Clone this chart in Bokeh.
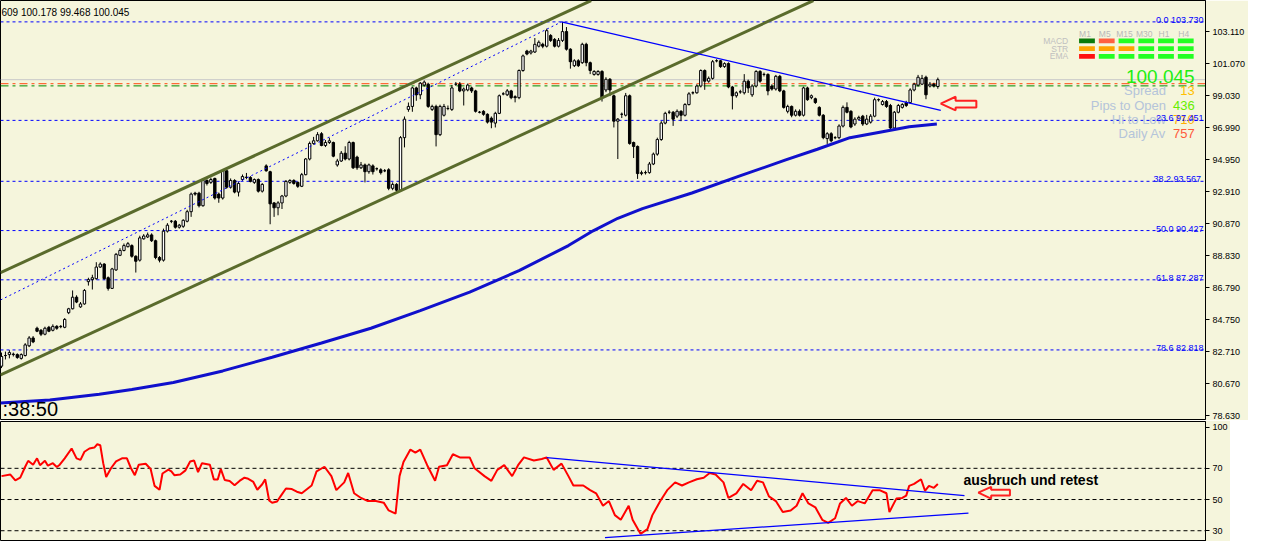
import numpy as np
from bokeh.plotting import figure
from bokeh.layouts import column
from bokeh.models import FixedTicker, PrintfTickFormatter, Label, Range1d, ColumnDataSource, Span
from bokeh.core.properties import value
from bokeh.embed import file_html
from bokeh.resources import INLINE

# ---------------- data: candles (one per bar) ----------------
opens = [81.78, 82.46, 82.52, 82.52, 82.52, 82.28, 82.46, 83.08, 83.58, 84.20,
         84.07, 83.82, 84.26, 84.07, 84.32, 84.30, 84.26, 85.19, 85.44, 86.18,
         85.56, 85.75, 87.17, 87.30, 87.36, 88.10, 88.29, 87.42, 86.74, 87.92,
         88.85, 89.16, 89.40, 89.47, 88.79, 88.54, 89.90, 90.02, 90.15, 89.78,
         88.71, 88.54, 90.39, 91.02, 91.02, 90.64, 90.70, 91.02, 91.63, 92.81,
         92.81, 92.01, 93.62, 93.50, 93.75, 92.75, 92.50, 94.24, 93.19, 93.62,
         92.88, 93.68, 93.81, 93.81, 93.50, 93.68, 92.94, 94.55, 94.18, 92.19,
         91.88, 92.19, 92.63, 93.50, 93.62, 93.50, 93.25, 93.99, 94.99, 95.98,
         96.15, 96.60, 95.85, 96.04, 96.04, 94.61, 94.86, 95.36, 94.99, 96.04,
         95.11, 94.43, 94.61, 94.18, 94.55, 94.37, 94.30, 94.24, 94.30, 93.12,
         93.37, 93.00, 96.35, 98.15, 98.34, 99.52, 99.08, 99.70, 99.76, 98.15,
         98.34, 96.54, 97.78, 98.21, 98.15, 99.76, 99.76, 99.33, 99.39, 99.52,
         99.33, 97.97, 98.03, 97.84, 97.59, 97.28, 97.90, 99.14, 99.08, 99.33,
         98.96, 98.90, 100.63, 101.87, 101.75, 101.81, 102.18, 102.30, 102.18, 102.86,
         102.61, 102.18, 102.55, 103.11, 101.99, 100.94, 101.25, 101.13, 102.30, 101.13,
         100.38, 100.38, 100.57, 99.39, 100.07, 99.02, 97.40, 97.84, 97.78, 99.02,
         96.04, 95.79, 94.06, 94.12, 94.12, 94.67, 95.30, 96.23, 97.28, 97.97,
         97.97, 97.72, 98.03, 97.78, 98.46, 99.21, 99.21, 99.64, 100.63, 99.95,
         100.13, 101.25, 101.25, 100.88, 101.07, 99.58, 99.02, 99.27, 99.21, 99.95,
         99.08, 99.64, 100.57, 100.38, 100.38, 99.64, 99.45, 100.26, 99.33, 98.03,
         98.34, 97.78, 98.03, 97.78, 99.52, 98.90, 98.83, 98.28, 97.78, 96.29,
         96.60, 96.35, 96.35, 97.09, 98.28, 98.03, 97.22, 97.53, 97.72, 97.22,
         97.34, 97.72, 98.77, 98.46, 98.65, 98.40, 96.97, 97.97, 98.28, 98.59,
         98.59, 99.39, 99.70, 99.76, 100.20, 99.64, 99.76, 99.609]
highs = [82.65, 82.71, 82.80, 82.65, 82.60, 82.60, 83.25, 83.70, 83.70, 84.30,
         84.15, 84.30, 84.35, 84.45, 84.40, 84.40, 84.85, 85.50, 86.61, 86.30,
         85.87, 86.70, 87.42, 87.61, 88.41, 88.40, 88.35, 87.50, 88.05, 89.00,
         89.30, 89.60, 89.70, 89.55, 88.85, 90.10, 90.20, 90.30, 90.25, 89.85,
         88.80, 90.55, 90.90, 91.10, 91.10, 90.85, 91.15, 91.75, 92.85, 92.90,
         92.90, 93.70, 93.70, 93.80, 93.80, 92.85, 94.35, 94.30, 93.75, 93.70,
         93.55, 94.00, 94.10, 93.90, 93.75, 93.75, 93.45, 94.65, 94.24, 92.25,
         92.30, 92.70, 93.65, 93.70, 93.70, 93.55, 94.10, 95.05, 96.10, 96.40,
         96.70, 96.70, 96.20, 96.35, 96.10, 95.00, 95.50, 95.80, 96.15, 96.10,
         95.20, 94.80, 94.70, 94.70, 94.65, 94.45, 94.40, 94.35, 94.40, 93.50,
         93.45, 96.45, 97.70, 98.59, 99.60, 99.60, 99.90, 100.00, 99.85, 98.45,
         98.45, 98.45, 98.50, 98.40, 99.70, 99.90, 99.90, 99.55, 99.80, 99.60,
         99.40, 98.05, 98.10, 97.90, 97.70, 98.00, 99.10, 99.25, 99.45, 99.40,
         99.05, 100.70, 101.65, 101.95, 101.95, 102.70, 102.55, 102.40, 103.30, 102.95,
         102.70, 102.70, 103.73, 103.40, 102.05, 101.35, 101.35, 102.40, 102.40, 101.20,
         100.65, 100.65, 100.65, 100.20, 100.15, 99.10, 97.60, 97.95, 99.20, 99.10,
         96.10, 95.85, 94.25, 94.25, 94.80, 95.40, 96.35, 97.40, 98.00, 98.10,
         98.05, 98.15, 98.10, 98.55, 99.25, 99.30, 99.75, 100.70, 100.70, 100.25,
         101.30, 101.35, 101.30, 101.15, 101.15, 99.65, 99.30, 99.40, 100.40, 100.05,
         99.75, 100.65, 100.65, 100.50, 100.45, 99.75, 100.35, 100.35, 99.40, 98.45,
         98.40, 98.15, 98.15, 99.60, 99.60, 99.10, 98.90, 98.35, 97.85, 96.70,
         96.70, 96.45, 97.20, 98.40, 98.60, 98.10, 97.65, 97.75, 97.80, 97.80,
         97.85, 98.90, 98.85, 98.75, 98.75, 98.50, 98.05, 98.50, 98.55, 98.70,
         99.50, 99.85, 100.35, 100.35, 100.30, 99.90, 99.85, 100.178]
lows = [81.66, 82.21, 82.28, 82.40, 82.25, 82.20, 82.40, 83.00, 83.25, 83.95,
        83.70, 83.75, 83.95, 84.00, 84.10, 84.20, 84.20, 85.10, 85.40, 85.80,
        85.50, 85.70, 86.92, 86.67, 87.30, 88.05, 87.30, 86.60, 86.70, 87.85,
        88.80, 89.10, 89.35, 88.70, 87.75, 88.45, 89.85, 89.95, 89.70, 88.60,
        88.40, 88.45, 90.30, 90.90, 90.55, 90.55, 90.60, 90.95, 91.30, 92.65,
        91.90, 91.95, 93.30, 93.40, 92.40, 92.20, 92.40, 93.10, 93.10, 92.80,
        92.60, 93.60, 93.70, 93.50, 93.40, 92.85, 92.85, 94.18, 90.83, 91.30,
        91.40, 91.80, 92.55, 93.40, 93.35, 93.15, 93.20, 93.95, 94.90, 95.90,
        96.10, 95.80, 95.75, 95.95, 95.10, 94.50, 94.80, 94.90, 94.90, 94.35,
        94.30, 94.35, 93.50, 94.05, 94.00, 94.25, 94.00, 94.15, 93.00, 93.00,
        92.85, 92.90, 95.73, 98.00, 98.00, 98.70, 98.80, 99.60, 98.25, 98.05,
        95.79, 96.45, 97.70, 98.10, 98.05, 99.65, 99.25, 98.40, 99.30, 99.20,
        97.95, 97.90, 97.75, 97.25, 96.95, 97.00, 97.85, 99.05, 99.00, 98.80,
        98.60, 98.80, 100.55, 101.60, 101.65, 101.75, 102.10, 102.05, 102.10, 102.45,
        102.10, 102.10, 102.45, 101.90, 100.75, 100.85, 100.85, 101.05, 100.90, 100.40,
        100.30, 100.30, 98.65, 99.25, 99.00, 97.00, 94.99, 97.60, 97.70, 95.90,
        95.05, 93.72, 93.95, 94.00, 94.05, 94.60, 95.20, 96.15, 97.20, 97.85,
        97.10, 97.60, 97.40, 97.70, 98.40, 99.10, 99.15, 99.55, 99.40, 99.85,
        100.05, 101.15, 100.80, 100.80, 99.50, 98.15, 98.90, 99.15, 99.10, 99.20,
        98.95, 99.55, 99.85, 100.25, 99.05, 99.35, 99.35, 99.25, 98.20, 97.90,
        97.65, 97.70, 97.70, 97.70, 98.70, 98.80, 98.50, 97.70, 96.25, 95.95,
        96.05, 96.25, 96.25, 97.00, 97.90, 96.95, 97.10, 97.45, 97.10, 97.15,
        97.25, 97.65, 98.65, 98.40, 98.25, 96.80, 96.90, 97.90, 98.20, 98.30,
        98.50, 99.30, 99.60, 99.70, 98.80, 99.55, 99.55, 99.468]
closes = [82.40, 82.46, 82.65, 82.55, 82.34, 82.52, 83.14, 83.58, 83.33, 84.01,
          83.82, 84.20, 84.01, 84.32, 84.20, 84.32, 84.76, 85.44, 86.18, 85.87,
          85.75, 86.61, 87.30, 87.42, 88.10, 88.29, 87.36, 86.74, 87.98, 88.91,
          89.16, 89.47, 89.59, 88.79, 88.47, 89.96, 90.08, 90.15, 89.78, 88.71,
          88.54, 90.39, 90.77, 91.02, 90.64, 90.77, 91.08, 91.63, 92.75, 92.75,
          92.01, 93.62, 93.43, 93.68, 92.50, 92.50, 94.24, 93.19, 93.62, 92.88,
          93.43, 93.87, 93.83, 93.56, 93.68, 92.94, 93.37, 94.24, 92.13, 91.88,
          92.19, 92.63, 93.56, 93.62, 93.43, 93.25, 93.99, 94.99, 95.98, 96.15,
          96.54, 95.85, 96.04, 96.15, 95.17, 94.86, 95.36, 94.99, 96.04, 94.43,
          94.43, 94.61, 94.18, 94.61, 94.18, 94.37, 94.12, 94.24, 93.12, 93.37,
          93.00, 96.35, 97.53, 98.34, 99.52, 99.08, 99.82, 99.89, 98.34, 98.34,
          96.54, 98.34, 98.34, 98.21, 99.52, 99.76, 99.33, 99.45, 99.70, 99.33,
          98.03, 97.97, 97.84, 97.34, 97.34, 97.90, 99.02, 99.14, 99.33, 98.90,
          98.90, 100.63, 101.56, 101.68, 101.87, 102.30, 102.43, 102.18, 103.17, 102.55,
          102.18, 102.55, 103.11, 101.99, 101.19, 101.25, 100.94, 102.30, 101.13, 100.63,
          100.57, 100.57, 98.90, 100.07, 99.39, 97.40, 97.53, 97.84, 99.02, 95.98,
          95.79, 94.06, 94.12, 94.12, 94.67, 95.30, 96.23, 97.28, 97.90, 97.97,
          97.53, 98.03, 97.78, 98.46, 99.14, 99.21, 99.64, 100.63, 99.95, 100.13,
          101.19, 101.25, 100.88, 101.07, 99.58, 99.02, 99.21, 99.27, 99.95, 99.52,
          99.64, 100.57, 99.95, 100.38, 99.33, 99.45, 100.26, 99.33, 98.28, 98.34,
          97.78, 98.03, 97.78, 99.52, 98.77, 99.02, 98.59, 97.78, 96.35, 96.60,
          96.15, 96.35, 97.09, 98.28, 97.97, 97.03, 97.53, 97.64, 97.22, 97.53,
          97.72, 98.77, 98.77, 98.65, 98.34, 96.97, 97.97, 98.40, 98.46, 98.40,
          99.39, 99.76, 100.20, 100.13, 99.08, 99.76, 99.64, 100.045]

# ---------------- data: moving average (bar, value) ----------------
ma_bar = [-0.25, 12.25, 24.75, 33, 43.5, 56, 68.5, 81, 93.5, 106, 118.5, 131, 143.5,
          149.75, 156, 162.25, 174.75, 187.25, 198.5, 206.5, 214.75, 223, 229.75, 236.75]
ma_val = [79.44, 79.62, 79.99, 80.30, 80.74, 81.48, 82.35, 83.26, 84.20, 85.32, 86.50, 87.87, 89.47,
          90.41, 91.21, 91.83, 92.82, 93.94, 94.93, 95.61, 96.35, 96.73, 97.04, 97.22]

# ---------------- data: trend objects (bar, price) ----------------
channel_upper_bar = [-0.25, 149.25]
channel_upper_val = [87.74, 105.09]
channel_lower_bar = [-0.25, 205.5]
channel_lower_val = [81.22, 105.09]
channel_mid_bar = [-0.25, 141.75]
channel_mid_val = [86.00, 103.73]
downtrend_bar = [141.75, 237.75]
downtrend_val = [103.73, 98.09]

fib_levels = [103.730, 97.451, 93.567, 90.427, 87.287, 82.818]
fib_labels = ["0.0 103.730", "23.6 97.451", "38.2  93.567", "50.0 90.427", "61.8 87.287", "78.6 82.818"]
price_ticks = [103.110, 101.070, 99.030, 96.990, 94.950, 92.910, 90.870, 88.830, 86.790, 84.750, 82.710, 80.670, 78.630]
bid = 100.045
level_red = 99.79
level_green = 99.65
ohlc_text = "609 100.178 99.468 100.045"
clock_text = ":38:50"

# ---------------- data: RSI (bar, value) ----------------
rsi_bar = [0, 2.25, 3.5, 4.75, 6, 6.75, 8, 9, 9.75, 11, 11.75, 13, 14, 14.75, 16, 17.75, 19, 20, 21, 22.25,
           23.5, 24.25, 25, 25.75, 26.5, 27.75, 29, 30.5, 31.75, 32.75, 33.75, 34.75, 36.5, 37.75, 38.75, 40,
           40.75, 42.25, 43, 43.75, 45.25, 46.5, 47.75, 48.75, 49.75, 50.75, 52.75, 53.75, 54.75, 55.5, 56.5,
           57.75, 59, 60.25, 61.5, 62.25, 63.75, 64.75, 66, 66.75, 67.75, 68.5, 69.75, 70.75, 72, 73.5, 74.75,
           76, 78.5, 79.75, 81.75, 83.5, 84.75, 86.75, 87.75, 89.25, 91, 92.75, 94.75, 96.75, 98, 99.75, 100.75,
           101.75, 103.5, 104.75, 106, 107.75, 109.75, 110.75, 112.75, 114.25, 116, 118.5, 119.75, 122.25, 124,
           125.5, 127.25, 129.25, 130.75, 132.25, 134.75, 136.75, 138, 139.75, 141.75, 143.5, 144.75, 147.25,
           149, 150.5, 152.25, 153.75, 155.25, 156.75, 158.75, 159.75, 161.75, 163.5, 164.75, 166.75, 168.5,
           170.5, 172.25, 174, 176, 177.75, 179.25, 180.75, 182.75, 184, 186, 187.75, 189.75, 191.25, 192.75,
           194.25, 196, 197.75, 199.75, 201.25, 202.75, 204.25, 206, 207.75, 209.25, 211, 212.25, 213.75,
           215.25, 216.75, 218.5, 220.5, 222.25, 224, 224.75, 226.5, 228, 229, 229.75, 231, 232.75, 233.75,
           234.75, 236, 237]
rsi_val = [65, 66, 62.3, 64, 71, 74.8, 72.3, 76.4, 72, 74.8, 71.7, 73.3, 70.8, 72.3, 76.4, 82.7, 76.4, 75.4, 80.6, 82.7,
           83.3, 85.4, 84.8, 73.3, 64.4, 70.2, 74.4, 76.4, 76.4, 70.2, 65.6, 72.3, 72.9, 69.6, 58.75, 56.25,
           66.7, 69.2, 68.1, 65.6, 66, 68.5, 74.4, 75, 67.5, 73.3, 72.3, 62.9, 62.9, 69.6, 62.5,
           61.9, 59.2, 61.9, 64, 63.5, 61.25, 56.25, 59.8, 62.9, 49.4, 47.9, 48.75, 52.5, 57.1, 56.7, 55,
           54, 59, 68, 71, 65, 56, 61, 67, 54, 51, 49, 49, 48, 43, 41, 65,
           74, 82, 80, 82, 72, 62, 71, 72, 79, 77, 77, 70, 65, 62,
           69, 72, 65, 72, 77, 75, 76, 77, 69, 73, 65, 59, 59,
           56, 54, 46, 49, 40, 37, 46, 37, 28, 31, 40, 49, 56,
           61, 59, 61, 63, 64, 67, 66, 61, 51, 54, 60, 56, 62, 61,
           52, 49, 42, 43, 46, 54, 47.5, 45, 37, 35, 38, 47.5, 51,
           46, 49, 47.5, 56, 56, 54, 42, 50.6, 51, 52.5, 58.75, 60, 63, 55.6,
           58.75, 57.5, 60]
rsi_levels = [70, 50, 30]
rsi_ticks = [96.2, 70, 50, 30]
rsi_tick_text = {96.2: "100", 70: "70", 50: "50", 30: "30"}
rsi_upper_bar = [138, 243.75]
rsi_upper_val = [76.9, 52.5]
rsi_lower_bar = [152.75, 244.75]
rsi_lower_val = [25.6, 41.25]
note_text = "ausbruch und retest"

# ---------------- dashboard ----------------
tf_names = ["M1", "M5", "M15", "M30", "H1", "H4"]
ind_names = ["MACD", "STR", "EMA"]
ind_colors = [["#0a7a0a", "#ff6040", "#22ff22", "#22ff22", "#22ff22", "#22ff22"],
              ["#ffa500", "#ffa500", "#ffa500", "#22ff22", "#22ff22", "#22ff22"],
              ["#ff1010", "#22ff22", "#22ff22", "#22ff22", "#22ff22", "#22ff22"]]
info_names = ["Spread", "Pips to Open", "Hi to Low", "Daily Av"]
info_values = ["13", "436", "710", "757"]
info_colors = ["#ffc000", "#66ee00", "#ffb000", "#ff5a3a"]

BG = "#f5f5dc"
FONT = "Liberation Sans"

# layout helpers: screen position of the reference terminal -> chart coordinates
def bx(px):
    return (px - 1) / 4.0

def py(pix):
    return 105.093 - 0.06197 * pix

def ry(pix):
    return 70 - (pix - 482) / 1.6

x_range = Range1d(-0.25, 304.75)

# ---------------- main price panel ----------------
p = figure(frame_width=1205, frame_height=419, x_range=x_range, y_range=Range1d(78.383, 105.093),
           output_backend="svg", toolbar_location=None, title=None,
           x_axis_location=None, y_axis_location="right",
           min_border_left=0, min_border_top=0, min_border_bottom=1, min_border_right=0)
p.background_fill_color = BG
p.border_fill_color = BG
p.outline_line_color = "black"
p.grid.visible = False
ax = p.yaxis[0]
ax.ticker = FixedTicker(ticks=price_ticks)
ax.formatter = PrintfTickFormatter(format="%.3f")
ax.major_label_text_font = FONT
ax.major_label_text_font_size = "9px"
ax.major_label_text_color = "black"
ax.axis_line_color = "black"
ax.major_tick_line_color = "black"
ax.major_tick_out = 4
ax.major_tick_in = 0
ax.minor_tick_line_color = None
ax.major_label_standoff = 3

for lv in fib_levels:
    p.add_layout(Span(location=lv, dimension="width", line_color="#0000ff", line_width=1, line_dash="3 3", level="underlay"))
p.add_layout(Span(location=bid, dimension="width", line_color="#c8c8c8", line_width=1, level="underlay"))
p.add_layout(Span(location=level_red, dimension="width", line_color="#ff4a10", line_width=1, line_dash="8 4 3 4", level="underlay"))
p.add_layout(Span(location=level_green, dimension="width", line_color="#008a00", line_width=1, line_dash="8 4 3 4", level="underlay"))

o = np.array(opens); h = np.array(highs); l = np.array(lows); c = np.array(closes)
bars = np.arange(len(o))
src = ColumnDataSource(dict(x=bars, top=np.maximum(o, c), bottom=np.minimum(o, c), high=h, low=l,
                            fill=np.where(c >= o, "white", "black")))
p.segment(x0="x", y0="low", x1="x", y1="high", source=src, line_color="black", line_width=1)
p.vbar(x="x", width=0.6, top="top", bottom="bottom", source=src, fill_color="fill", line_color="black", line_width=1)

p.line(channel_upper_bar, channel_upper_val, line_color="#5a6b2c", line_width=3)
p.line(channel_lower_bar, channel_lower_val, line_color="#5a6b2c", line_width=3)
p.line(channel_mid_bar, channel_mid_val, line_color="#0000ff", line_width=1, line_dash="2 3")
p.line(downtrend_bar, downtrend_val, line_color="#0000ff", line_width=1.3)
p.line(ma_bar, ma_val, line_color="#1010cc", line_width=3)

# red arrow (hollow)
ax0, ay0 = 952, 106
arrow_dx = [0, 15, 15, 36, 36, 15, 15]
arrow_dy = [0, -7, -3, -3, 4, 4, 7]
p.patch([bx(ax0 + d) for d in arrow_dx], [py(ay0 + d) for d in arrow_dy],
        fill_color=BG, line_color="#ff2020", line_width=2)

# texts
p.text(x=[bx(1)], y=[py(12)], text=[ohlc_text], text_font=value(FONT), text_font_size="10px",
       text_color="black", text_baseline="alphabetic")
p.text(x=[bx(2)], y=[py(420)], text=[clock_text], text_font=value(FONT), text_font_size="20px",
       text_color="black", text_baseline="alphabetic")

# dashboard
col_px = [1100, 1120, 1140, 1160, 1180, 1200]
row_px = [41.5, 49.5, 57.5]
for r_i, cols in enumerate(ind_colors):
    p.rect(x=[bx(cp) for cp in col_px], y=[py(row_px[r_i])] * 6, width=4, height=0.3,
           fill_color=cols, line_color=None)
p.text(x=[bx(cp - 2) for cp in col_px], y=[py(34)] * 6, text=tf_names, text_font=value(FONT),
       text_font_size="8.5px", text_color="#b8b8b8", text_align="center", text_baseline="alphabetic")
p.text(x=[bx(1081)] * 3, y=[py(rp) for rp in row_px], text=ind_names, text_font=value(FONT),
       text_font_size="8.5px", text_color="#c0c0c0", text_align="right", text_baseline="middle")
p.text(x=[bx(1209)], y=[py(78)], text=["100.045"], text_font=value(FONT), text_font_size="19px",
       text_color="#22ee11", text_align="right", text_baseline="alphabetic")
info_base = [93, 107.5, 122, 137]
p.text(x=[bx(1180)] * 4, y=[py(b) for b in info_base], text=info_names, text_font=value(FONT),
       text_font_size="13px", text_color="#b4c4da", text_align="right", text_baseline="alphabetic")
p.text(x=[bx(1209)] * 4, y=[py(b) for b in info_base], text=info_values, text_font=value(FONT),
       text_font_size="13px", text_color=info_colors, text_align="right", text_baseline="alphabetic")

p.text(x=[bx(1218)] * len(fib_levels), y=[lv + 0.13 for lv in fib_levels], text=fib_labels,
       text_font=value(FONT), text_font_size="9px", text_color="#0000ff", text_align="right",
       text_baseline="alphabetic")

p.add_layout(Label(x=1207, y=bid, x_units="screen", y_units="data", text="100.045", text_color="white",
                   text_font=FONT, text_font_size="9px", text_baseline="middle",
                   background_fill_color="black", padding=2))

# ---------------- RSI panel ----------------
r = figure(frame_width=1205, frame_height=120, x_range=x_range, y_range=Range1d(23.1, 100),
           output_backend="svg", toolbar_location=None, title=None,
           x_axis_location=None, y_axis_location="right",
           min_border_left=0, min_border_top=1, min_border_bottom=0, min_border_right=0)
r.background_fill_color = BG
r.border_fill_color = BG
r.outline_line_color = "black"
r.grid.visible = False
rax = r.yaxis[0]
rax.ticker = FixedTicker(ticks=rsi_ticks)
rax.major_label_overrides = rsi_tick_text
rax.major_label_text_font = FONT
rax.major_label_text_font_size = "9px"
rax.major_label_text_color = "black"
rax.axis_line_color = "black"
rax.major_tick_line_color = "black"
rax.major_tick_out = 4
rax.major_tick_in = 0
rax.minor_tick_line_color = None
rax.major_label_standoff = 3

for lv in rsi_levels:
    r.add_layout(Span(location=lv, dimension="width", line_color="black", line_width=1, line_dash="4 3", level="underlay"))

r.line(rsi_bar, rsi_val, line_color="#ff0000", line_width=2)
r.line(rsi_upper_bar, rsi_upper_val, line_color="#0000ff", line_width=1.2)
r.line(rsi_lower_bar, rsi_lower_val, line_color="#0000ff", line_width=1.2)

bx0, by0 = 990, 507
r_dx = [0, 13, 13, 32, 32, 13, 13]
r_dy = [0, -6, -3, -3, 3, 3, 6]
r.patch([bx(bx0 + d) for d in r_dx], [ry(by0 + d) for d in r_dy],
        fill_color=BG, line_color="#ff2020", line_width=2)
r.text(x=[bx(975)], y=[ry(494)], text=[note_text], text_font=value(FONT), text_font_size="14px",
       text_font_style="bold", text_color="black", text_baseline="alphabetic")

layout = column(p, r, spacing=0)
open("out.html", "w").write(file_html(layout, INLINE))
